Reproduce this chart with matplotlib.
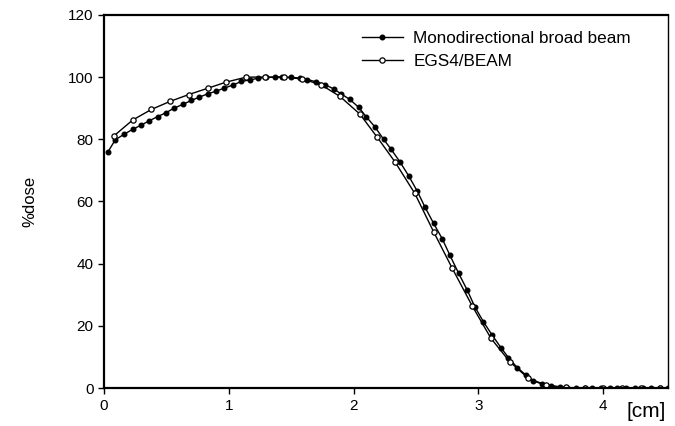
import matplotlib
matplotlib.use("Agg")
import matplotlib.pyplot as plt

plt.rcParams['font.family'] = ['Liberation Sans', 'DejaVu Sans']

# Monodirectional broad beam (filled markers)
mono_x = [0.03, 0.09, 0.16, 0.23, 0.30, 0.36, 0.43, 0.50, 0.56, 0.63,
          0.70, 0.76, 0.83, 0.90, 0.96, 1.03, 1.10, 1.17, 1.23, 1.30,
          1.37, 1.43, 1.50, 1.57, 1.63, 1.70, 1.77, 1.84, 1.90, 1.97,
          2.04, 2.10, 2.17, 2.24, 2.30, 2.37, 2.44, 2.51, 2.57, 2.64,
          2.71, 2.77, 2.84, 2.91, 2.97, 3.04, 3.11, 3.18, 3.24, 3.31,
          3.38, 3.44, 3.51, 3.58, 3.65, 3.71, 3.78, 3.85, 3.91, 3.98,
          4.05, 4.11, 4.18, 4.25, 4.32, 4.38, 4.45, 4.52]
mono_y = [75.8, 79.8, 81.6, 83.2, 84.6, 85.9, 87.3, 88.6, 90.0, 91.2,
          92.5, 93.5, 94.6, 95.5, 96.4, 97.4, 98.6, 99.1, 99.6, 99.9,
          100.0, 100.0, 99.9, 99.7, 99.2, 98.5, 97.6, 96.2, 94.6, 92.8,
          90.3, 87.3, 84.0, 80.0, 76.8, 72.8, 68.3, 63.3, 58.3, 53.0,
          48.0, 42.8, 37.0, 31.5, 26.2, 21.3, 17.0, 13.0, 9.8, 6.6,
          4.2, 2.3, 1.3, 0.7, 0.3, 0.15, 0.1, 0.05, 0.0, 0.0,
          0.0, 0.0, 0.0, 0.0, 0.0, 0.0, 0.0, 0.0]

# EGS4/BEAM (open markers)
egs_x = [0.08, 0.23, 0.38, 0.53, 0.68, 0.83, 0.98, 1.14, 1.29, 1.44,
         1.59, 1.74, 1.89, 2.05, 2.19, 2.33, 2.49, 2.64, 2.79, 2.95,
         3.10, 3.25, 3.40, 3.54, 3.70, 3.85, 4.00, 4.15, 4.30, 4.45]
egs_y = [81.1, 86.2, 89.6, 92.2, 94.4, 96.4, 98.4, 100.0, 100.0, 100.0,
         99.4, 97.5, 93.8, 88.1, 80.6, 72.8, 62.6, 50.3, 38.5, 26.4,
         16.0, 8.5, 3.1, 1.0, 0.2, 0.0, 0.0, 0.0, 0.0, 0.0]

x_ticks = [0, 1, 2, 3, 4]
y_ticks = [0, 20, 40, 60, 80, 100, 120]

fig = plt.figure(figsize=(6.75, 4.26), dpi=100)
ax = fig.add_axes([0.154, 0.089, 0.836, 0.876])

ax.plot(mono_x, mono_y, '-o', color='black', lw=1.0, ms=3.3,
        mfc='black', mec='black', label='Monodirectional broad beam')
ax.plot(egs_x, egs_y, '-o', color='black', lw=1.0, ms=3.8,
        mfc='white', mec='black', mew=0.9, label='EGS4/BEAM')

ax.set_xlim(0, 4.52)
ax.set_ylim(0, 120)
ax.set_xticks(x_ticks)
ax.set_yticks(y_ticks)
ax.tick_params(direction='out', length=4, width=1, labelsize=11, color='black')

for side in ['left', 'bottom', 'top']:
    ax.spines[side].set_linewidth(1.6)
ax.spines['right'].set_linewidth(1.0)

ax.set_ylabel('%dose', fontsize=12, labelpad=22)
fig.text(0.928, 0.035, '[cm]', fontsize=15, ha='left', va='center')

ax.legend(loc='upper left', bbox_to_anchor=(0.43, 0.998), frameon=False,
          fontsize=12.3, handlelength=2.4, numpoints=1, labelspacing=0.45,
          handletextpad=0.6)

fig.savefig('out.png', dpi=100)
